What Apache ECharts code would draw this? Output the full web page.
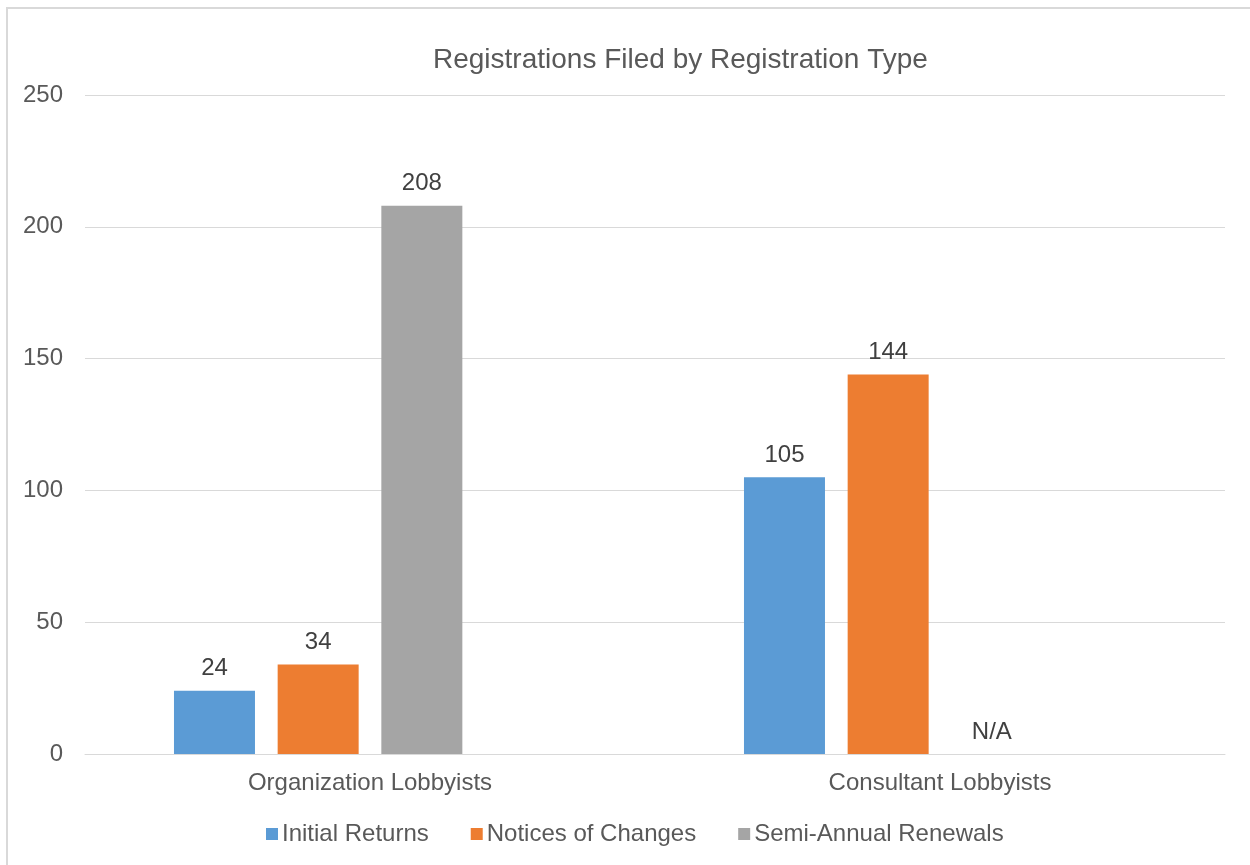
<!DOCTYPE html>
<html>
<head>
<meta charset="utf-8">
<title>Registrations Filed by Registration Type</title>
<script src="https://cdn.jsdelivr.net/npm/echarts@6/dist/echarts.min.js"></script>
<style>
  html, body { margin: 0; padding: 0; background: #fff; overflow: hidden; }
  #frame { position: absolute; left: 6px; top: 7px; width: 1300px; height: 900px; border-left: 2px solid #d9d9d9; border-top: 2px solid #d9d9d9; }
  #main { position: absolute; left: 0; top: 0; width: 1250px; height: 865px; }
</style>
</head>
<body>
<div id="frame"></div>
<div id="main"></div>
<script>
var categories = ['Organization Lobbyists', 'Consultant Lobbyists'];
var initialReturns = [24, 105];
var noticesOfChanges = [34, 144];
var semiAnnualRenewals = [208, null];   // null = N/A

var myChart = echarts.init(document.getElementById('main'));

var labelStyle = {
    show: true,
    position: 'top',
    distance: 10,
    color: '#404040',
    fontSize: 24,
    fontFamily: 'Liberation Sans'
};

// N/A values are drawn as a zero-height bar with an "N/A" label
function toSeriesData(arr) {
    return arr.map(function (v) {
        if (v === null) {
            return { value: 0, label: { formatter: 'N/A' } };
        }
        return v;
    });
}

var option = {
    textStyle: { fontFamily: 'Liberation Sans' },
    title: {
        text: 'Registrations Filed by Registration Type',
        left: 428,
        top: 41,
        textStyle: {
            color: '#595959',
            fontSize: 28,
            fontWeight: 'normal',
            fontFamily: 'Liberation Sans'
        }
    },
    color: ['#5b9bd5', '#ed7d31', '#a5a5a5'],
    legend: {
        bottom: 14,
        left: 261,
        itemWidth: 12,
        itemHeight: 12,
        itemGap: 42,
        icon: 'rect',
        textStyle: {
            color: '#595959',
            fontSize: 24,
            padding: [0, 0, 0, -1]
        },
        data: ['Initial Returns', 'Notices of Changes', 'Semi-Annual Renewals']
    },
    grid: {
        left: 85,
        right: 25,
        top: 95,
        bottom: 111,
        containLabel: false
    },
    xAxis: {
        type: 'category',
        data: categories,
        axisLine: { lineStyle: { color: '#d9d9d9', width: 1 } },
        axisTick: { show: false },
        axisLabel: {
            color: '#595959',
            fontSize: 24,
            margin: 17
        }
    },
    yAxis: {
        type: 'value',
        min: 0,
        max: 250,
        interval: 50,
        axisLine: { show: false },
        axisTick: { show: false },
        splitLine: { lineStyle: { color: '#d9d9d9', width: 1 } },
        axisLabel: {
            color: '#595959',
            fontSize: 24,
            margin: 22
        }
    },
    series: [
        {
            name: 'Initial Returns',
            type: 'bar',
            barWidth: 81,
            barGap: '28%',
            label: labelStyle,
            data: toSeriesData(initialReturns)
        },
        {
            name: 'Notices of Changes',
            type: 'bar',
            barWidth: 81,
            barGap: '28%',
            label: labelStyle,
            data: toSeriesData(noticesOfChanges)
        },
        {
            name: 'Semi-Annual Renewals',
            type: 'bar',
            barWidth: 81,
            barGap: '28%',
            label: labelStyle,
            data: toSeriesData(semiAnnualRenewals)
        },
        {
            // empty slot kept in the source chart (no data, not in legend)
            name: '',
            type: 'bar',
            barWidth: 81,
            barGap: '28%',
            data: []
        }
    ]
};
myChart.setOption(option);
</script>
</body>
</html>
